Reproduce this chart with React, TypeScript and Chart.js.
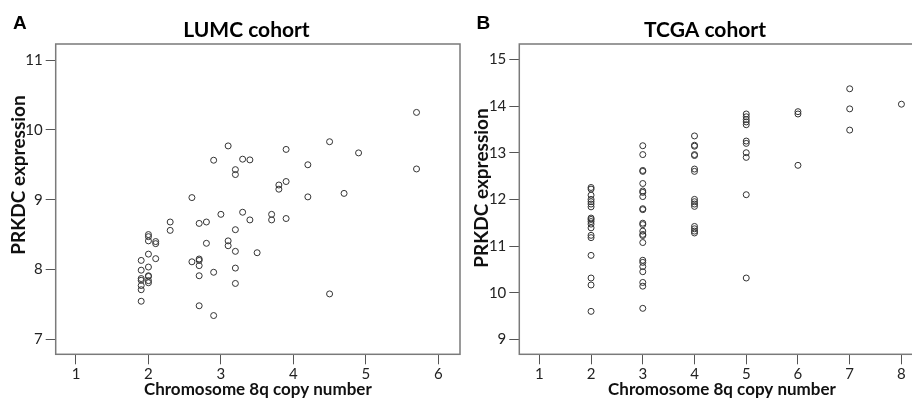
import React, { useEffect, useRef } from "react";
import { Chart, registerables } from "chart.js";

Chart.register(...registerables);

// ---------- Data ----------
const lumcCopyNumber = [
  3.1, 2.9, 3.3, 3.4, 3.2, 3.2, 2.6, 2.3, 2.3, 2.7, 2.8, 3.0, 3.3, 3.4, 3.2,
  2.0, 2.0, 2.0, 2.1, 2.1, 2.8, 3.1, 3.1, 3.2, 3.5, 2.0, 2.1, 1.9, 2.6, 2.7,
  2.7, 2.7, 2.0, 1.9, 2.9, 3.2, 2.0, 2.0, 1.9, 1.9, 2.0, 2.0, 1.9, 1.9, 2.7,
  3.2, 1.9, 2.7, 2.9, 5.7, 4.5, 3.9, 4.9, 4.2, 3.9, 3.8, 3.8, 4.2, 4.7, 5.7,
  3.7, 3.7, 3.9, 4.5,
];
const lumcExpression = [
  9.77, 9.565, 9.58, 9.57, 9.43, 9.36, 9.03, 8.68, 8.56, 8.66, 8.68, 8.79, 8.82,
  8.71, 8.57, 8.5, 8.47, 8.41, 8.4, 8.37, 8.375, 8.41, 8.34, 8.26, 8.24, 8.22,
  8.155, 8.13, 8.11, 8.15, 8.13, 8.055, 8.035, 7.99, 7.96, 8.02, 7.91, 7.9, 7.87,
  7.845, 7.84, 7.81, 7.77, 7.71, 7.91, 7.8, 7.545, 7.48, 7.34, 10.25, 9.83, 9.72,
  9.67, 9.5, 9.26, 9.21, 9.15, 9.04, 9.09, 9.44, 8.79, 8.71, 8.73, 7.65,
];

const tcgaCopyNumber = [
  2, 2, 2, 2, 2, 2, 2, 2, 2, 2, 2, 2, 2, 2, 2, 2, 2, 2,
  3, 3, 3, 3, 3, 3, 3, 3, 3, 3, 3, 3, 3, 3, 3, 3, 3, 3, 3, 3, 3, 3, 3,
  4, 4, 4, 4, 4, 4, 4, 4, 4, 4, 4, 4, 4, 4, 4,
  5, 5, 5, 5, 5, 5, 5, 5, 5, 5, 5,
  6, 6, 6,
  7, 7, 7,
  8,
];
const tcgaExpression = [
  12.255, 12.22, 12.09, 12.0, 11.95, 11.9, 11.84, 11.6, 11.57, 11.525, 11.47,
  11.39, 11.23, 11.18, 10.8, 10.315, 10.165, 9.6,
  13.15, 12.96, 12.62, 12.6, 12.34, 12.18, 12.15, 12.06, 11.8, 11.78, 11.49,
  11.46, 11.32, 11.25, 11.225, 11.075, 10.695, 10.65, 10.56, 10.45, 10.22,
  10.14, 9.665,
  13.36, 13.16, 13.14, 12.96, 12.94, 12.65, 12.6, 12.0, 11.95, 11.9, 11.85,
  11.42, 11.37, 11.32, 11.28,
  13.83, 13.77, 13.71, 13.66, 13.6, 13.25, 13.2, 13.0, 12.9, 12.1, 10.315,
  13.88, 13.83, 12.73,
  14.37, 13.94, 13.485,
  14.04,
];

const lumcXTicks = [1, 2, 3, 4, 5, 6];
const lumcYTicks = [7, 8, 9, 10, 11];
const tcgaXTicks = [1, 2, 3, 4, 5, 6, 7, 8];
const tcgaYTicks = [9, 10, 11, 12, 13, 14, 15];

// ---------- Styling helpers ----------
const FONT = "Lato, 'DejaVu Sans', sans-serif";

const framePlugin = {
  id: "frameBox",
  afterDatasetsDraw(chart: any) {
    const { ctx, chartArea } = chart;
    ctx.save();
    ctx.strokeStyle = "#7a7a7a";
    ctx.lineWidth = 1.5;
    ctx.strokeRect(
      chartArea.left,
      chartArea.top,
      chartArea.right - chartArea.left,
      chartArea.bottom - chartArea.top
    );
    ctx.restore();
  },
};

const textPlugin = {
  id: "panelText",
  afterDraw(chart: any, _args: any, o: any) {
    const { ctx, chartArea } = chart;
    ctx.save();
    ctx.fillStyle = "#000";
    ctx.font = "bold 19px 'Liberation Sans', Arial, sans-serif";
    ctx.textAlign = "left";
    ctx.textBaseline = "alphabetic";
    ctx.fillText(o.letter, chartArea.left + o.letterDx, 28.5);

    ctx.font = `bold 21px ${FONT}`;
    ctx.textAlign = "center";
    ctx.textBaseline = "middle";
    ctx.fillText(o.title, (chartArea.left + chartArea.right) / 2 + o.titleDx, 30);

    ctx.translate(o.yTitleX, o.yTitleY);
    ctx.rotate(-Math.PI / 2);
    ctx.font = `bold 19px ${FONT}`;
    ctx.fillStyle = "#111";
    ctx.fillText(o.yTitle, 0, 0);
    ctx.restore();
  },
};

function makeConfig(p: {
  xs: number[];
  ys: number[];
  xTicks: number[];
  yTicks: number[];
  xMin: number;
  xMax: number;
  yMin: number;
  yMax: number;
  yWidth: number;
  padRight: number;
  letter: string;
  title: string;
  titleDx: number;
  yTitleX: number;
  yTitleY: number;
}) {
  const data = p.xs.map((x, i) => ({ x, y: p.ys[i] }));
  const tickFont = { family: FONT, size: 15 };
  const grid = {
    display: true,
    drawOnChartArea: false,
    drawTicks: true,
    tickLength: 10,
    color: "#555",
    lineWidth: 1,
  };
  return {
    type: "scatter" as const,
    data: {
      datasets: [
        {
          data,
          pointStyle: "circle",
          pointRadius: 3,
          pointHoverRadius: 3,
          pointBorderWidth: 1,
          pointBorderColor: "#333",
          pointBackgroundColor: "rgba(255,255,255,0)",
        },
      ],
    },
    options: {
      animation: false,
      responsive: false,
      maintainAspectRatio: false,
      events: [],
      layout: { padding: { top: 44, right: p.padRight, left: 0, bottom: 0 } },
      plugins: {
        legend: { display: false },
        tooltip: { enabled: false },
        title: { display: false },
        panelText: {
          letter: p.letter,
          letterDx: -42.7,
          title: p.title,
          titleDx: p.titleDx,
          yTitle: "PRKDC expression",
          yTitleX: p.yTitleX,
          yTitleY: p.yTitleY,
        },
      },
      scales: {
        x: {
          type: "linear",
          min: p.xMin,
          max: p.xMax,
          afterBuildTicks: (s: any) => {
            s.ticks = p.xTicks.map((v) => ({ value: v }));
          },
          afterFit: (s: any) => {
            s.height = 45.7;
          },
          ticks: { font: tickFont, color: "#222", padding: 1, maxRotation: 0 },
          grid,
          border: { display: false },
          title: {
            display: true,
            text: "Chromosome 8q copy number",
            font: { family: FONT, size: 17, weight: "bold" },
            color: "#111",
            padding: 0,
          },
        },
        y: {
          type: "linear",
          min: p.yMin,
          max: p.yMax,
          afterBuildTicks: (s: any) => {
            s.ticks = p.yTicks.map((v) => ({ value: v }));
          },
          afterFit: (s: any) => {
            s.width = p.yWidth;
          },
          ticks: { font: tickFont, color: "#222", padding: 3 },
          grid,
          border: { display: false },
          title: { display: false },
        },
      },
    },
    plugins: [framePlugin, textPlugin],
  };
}

function ScatterPanel(props: { cfg: any; left: number; width: number }) {
  const ref = useRef<HTMLCanvasElement | null>(null);
  useEffect(() => {
    if (!ref.current) return;
    const chart = new Chart(ref.current, props.cfg);
    return () => chart.destroy();
  }, []);
  return (
    <canvas
      ref={ref}
      width={props.width}
      height={400}
      style={{
        position: "absolute",
        left: props.left,
        top: 0,
        width: props.width,
        height: 400,
      }}
    />
  );
}

export default function App() {
  const lumcCfg = makeConfig({
    xs: lumcCopyNumber,
    ys: lumcExpression,
    xTicks: lumcXTicks,
    yTicks: lumcYTicks,
    xMin: 0.72,
    xMax: 6.3,
    yMin: 6.785,
    yMax: 11.23,
    yWidth: 55.7,
    padRight: 10,
    letter: "A",
    title: "LUMC cohort",
    titleDx: -11.4,
    yTitleX: 19,
    yTitleY: 175,
  });
  const tcgaCfg = makeConfig({
    xs: tcgaCopyNumber,
    ys: tcgaExpression,
    xTicks: tcgaXTicks,
    yTicks: tcgaYTicks,
    xMin: 0.613,
    xMax: 8.45,
    yMin: 8.68,
    yMax: 15.33,
    yWidth: 49.3,
    padRight: 15.3,
    letter: "B",
    title: "TCGA cohort",
    titleDx: -17,
    yTitleX: 12,
    yTitleY: 188,
  });
  return (
    <div
      style={{
        position: "absolute",
        left: 0,
        top: 0,
        width: 912,
        height: 400,
        overflow: "hidden",
        background: "#fff",
      }}
    >
      <ScatterPanel cfg={lumcCfg} left={0} width={470} />
      <ScatterPanel cfg={tcgaCfg} left={470} width={470} />
    </div>
  );
}
